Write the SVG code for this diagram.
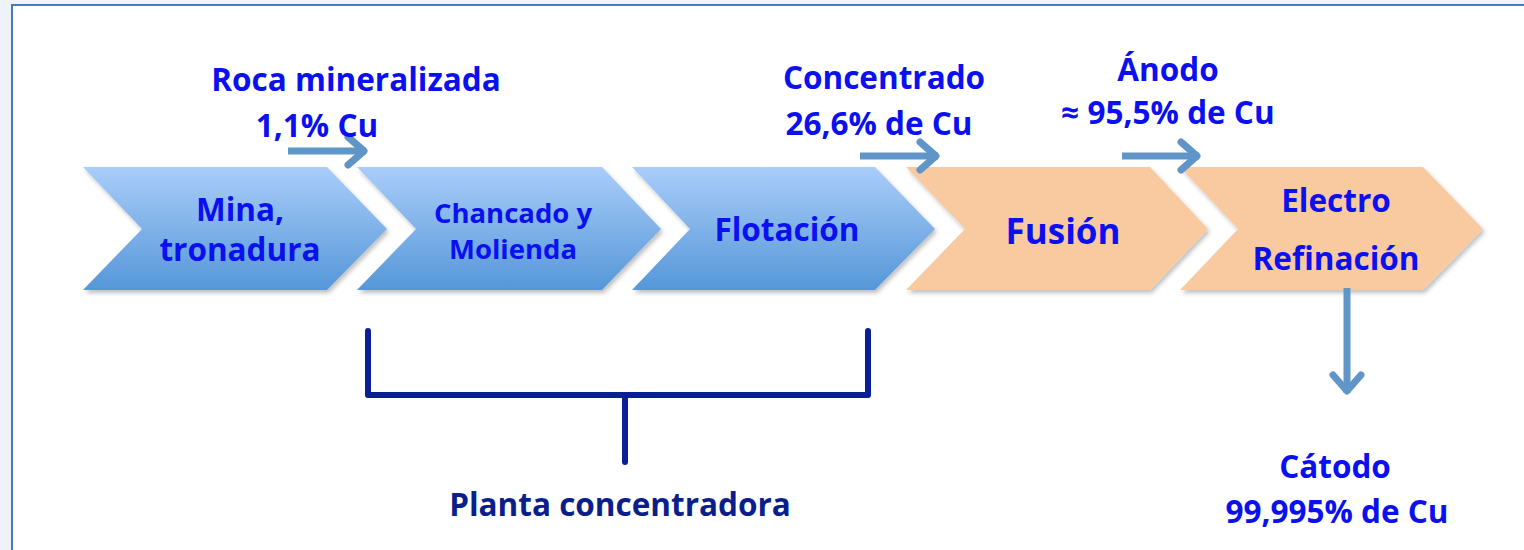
<svg xmlns="http://www.w3.org/2000/svg" width="1524" height="550" viewBox="0 0 1524 550">
<defs>
<linearGradient id="gBlue" x1="0" y1="0" x2="0" y2="1">
<stop offset="0" stop-color="#AACDFA"/>
<stop offset="1" stop-color="#5597D8"/>
</linearGradient>
<filter id="sh" x="-10%" y="-10%" width="120%" height="130%">
<feDropShadow dx="2" dy="3" stdDeviation="2" flood-color="#000" flood-opacity="0.25"/>
</filter>
<marker id="ah" markerUnits="userSpaceOnUse" markerWidth="40" markerHeight="40" refX="26" refY="20" orient="auto" viewBox="0 0 40 40">
<polyline points="8,6 24,20 8,34" fill="none" stroke="#5F95C7" stroke-width="7" stroke-linecap="round" stroke-linejoin="round"/>
</marker>
<style>
.t{font-family:"Open Sans","Liberation Sans",sans-serif;font-weight:bold;fill:#0A10F0;text-anchor:middle}
.lbl{font-size:31.5px}
.n{font-size:31.5px}
.flow{fill:none;stroke:#5F95C7;stroke-width:7}
.br{fill:none;stroke:#0A1E96;stroke-width:6;stroke-linecap:round;stroke-linejoin:round}
</style>
</defs>
<rect x="0" y="0" width="1524" height="550" fill="#EEF3FA"/>
<rect x="12" y="5" width="1530" height="560" fill="#FFFFFF" stroke="#4A78C8" stroke-width="2"/>

<g id="n1">
<polygon points="83,167 327,167 387,229 327,290 83,290 142,229" fill="url(#gBlue)" filter="url(#sh)"/>
<text class="t n" x="240" y="221">Mina,</text>
<text class="t n" x="240" y="261">tronadura</text>
</g>
<g id="n2">
<polygon points="357,167 602,167 661,229 602,290 357,290 416,229" fill="url(#gBlue)" filter="url(#sh)"/>
<text class="t" x="513" y="223" font-size="27.5">Chancado y</text>
<text class="t" x="513" y="259" font-size="27.5">Molienda</text>
</g>
<g id="n3">
<polygon points="632,167 875,167 935,229 875,290 632,290 690,229" fill="url(#gBlue)" filter="url(#sh)"/>
<text class="t n" x="787" y="241">Flotación</text>
</g>
<g id="n4">
<polygon points="906,167 1150,167 1208,229 1150,290 906,290 965,229" fill="#F9CAA0" filter="url(#sh)"/>
<text class="t" x="1063" y="244" font-size="35">Fusión</text>
</g>
<g id="n5">
<polygon points="1180,167 1423,167 1483,229 1423,290 1180,290 1238,229" fill="#F9CAA0" filter="url(#sh)"/>
<text class="t n" x="1336" y="212">Electro</text>
<text class="t n" x="1336" y="270">Refinación</text>
</g>

<g id="connectors">
<line class="flow" x1="288" y1="151" x2="366" y2="151" marker-end="url(#ah)"/>
<line class="flow" x1="860" y1="156" x2="938" y2="156" marker-end="url(#ah)"/>
<line class="flow" x1="1122" y1="156" x2="1199" y2="156" marker-end="url(#ah)"/>
<line class="flow" x1="1347" y1="288" x2="1347" y2="393" marker-end="url(#ah)"/>
<polyline class="br" points="368,331 368,395 868,395 868,331"/>
<line class="br" x1="625" y1="395" x2="625" y2="462"/>
</g>

<g id="labels">
<text class="t lbl" x="356" y="91">Roca mineralizada</text>
<text class="t lbl" x="317" y="137">1,1% Cu</text>
<text class="t lbl" x="884" y="89">Concentrado</text>
<text class="t lbl" x="879" y="135">26,6% de Cu</text>
<text class="t lbl" x="1168" y="81">Ánodo</text>
<text class="t lbl" x="1168" y="124">≈ 95,5% de Cu</text>
<text class="t lbl" x="1335" y="478">Cátodo</text>
<text class="t lbl" x="1337" y="523">99,995% de Cu</text>
<text class="t lbl" x="620" y="516" style="fill:#0A1E8C">Planta concentradora</text>
</g>
</svg>
